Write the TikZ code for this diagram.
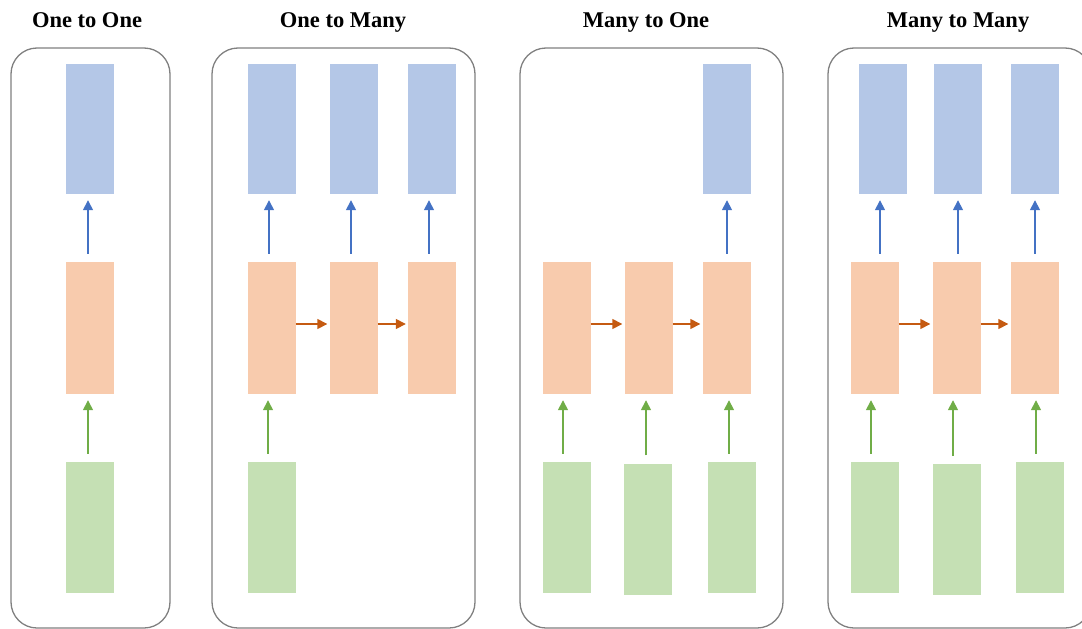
\documentclass[tikz,border=0pt]{standalone}
\usepackage{fontspec}
\setmainfont{Liberation Serif}
\usetikzlibrary{arrows.meta}
\definecolor{outblue}{HTML}{B4C7E7}
\definecolor{hidorange}{HTML}{F8CBAD}
\definecolor{ingreen}{HTML}{C5E0B4}
\definecolor{arrblue}{HTML}{4472C4}
\definecolor{arrorange}{HTML}{C55A11}
\definecolor{arrgreen}{HTML}{70AD47}
\definecolor{panelgray}{HTML}{808080}
\begin{document}
\begin{tikzpicture}[x=1pt,y=-1pt,
  cell/.style={minimum width=48pt, inner sep=0pt, draw=none},
  outcell/.style={cell, fill=outblue, minimum height=130pt},
  hidcell/.style={cell, fill=hidorange, minimum height=132pt},
  incell/.style={cell, fill=ingreen, minimum height=131pt},
  panel/.style={draw=panelgray, line width=1.3pt, rounded corners=26pt, inner sep=0pt, minimum height=580pt},
  title/.style={font=\fontsize{22.5}{26}\selectfont\bfseries, inner sep=0pt, anchor=base},
  tip/.style={-{Triangle[length=10pt,width=10pt]}, line width=1.5pt},
  uparrow/.style={tip, shorten <=8pt, shorten >=6pt},
  outarrow/.style={uparrow, draw=arrblue},
  inarrow/.style={uparrow, draw=arrgreen},
  recarrow/.style={tip, draw=arrorange, shorten >=2pt}
]
\useasboundingbox (0,0) rectangle (1082,629);
\clip (0,0) rectangle (1082,629);

% panels
\node[panel, minimum width=159pt] (p1) at (90.5,338) {};
\node[panel, minimum width=263pt] (p2) at (343.5,338) {};
\node[panel, minimum width=263pt] (p3) at (651.5,338) {};
\node[panel, minimum width=263pt] (p4) at (959.5,338) {};

% titles
\node[title] (t1) at (87,27.5) {One to One};
\node[title] (t2) at (343,27.5) {One to Many};
\node[title] (t3) at (646,27.5) {Many to One};
\node[title] (t4) at (958,27.5) {Many to Many};

% one to one
\node[outcell] (ab1) at (90,129) {};
\node[hidcell] (ah1) at (90,328) {};
\node[incell]  (ai1) at (90,527.5) {};
\draw[outarrow] ([xshift=-2pt]ab1.south |- ah1.north) -- ([xshift=-2pt]ab1.south);
\draw[inarrow]  ([xshift=-2pt]ah1.south |- ai1.north) -- ([xshift=-2pt]ah1.south);

% one to many
\node[outcell] (bb1) at (272,129) {};
\node[outcell] (bb2) at (354,129) {};
\node[outcell] (bb3) at (432,129) {};
\node[hidcell] (bh1) at (271.5,328) {};
\node[hidcell] (bh2) at (353.5,328) {};
\node[hidcell] (bh3) at (432,328) {};
\node[incell]  (bi1) at (272,527.5) {};
\draw[outarrow] ([xshift=-3pt]bb1.south |- bh1.north) -- ([xshift=-3pt]bb1.south);
\draw[outarrow] ([xshift=-3pt]bb2.south |- bh2.north) -- ([xshift=-3pt]bb2.south);
\draw[outarrow] ([xshift=-3pt]bb3.south |- bh3.north) -- ([xshift=-3pt]bb3.south);
\draw[inarrow] ([xshift=-3.5pt]bh1.south |- bi1.north) -- ([xshift=-3.5pt]bh1.south);
\draw[recarrow] ([yshift=4pt]bh1.east) -- ([yshift=4pt]bh2.west);
\draw[recarrow] ([yshift=4pt]bh2.east) -- ([yshift=4pt]bh3.west);

% many to one
\node[outcell] (cb3) at (727,129) {};
\node[hidcell] (ch1) at (566.5,328) {};
\node[hidcell] (ch2) at (648.5,328) {};
\node[hidcell] (ch3) at (726.5,328) {};
\node[incell]  (ci1) at (566.5,527.5) {};
\node[incell]  (ci2) at (648,529) {};
\node[incell]  (ci3) at (731.5,527.5) {};
\draw[outarrow] (cb3.south |- ch3.north) -- (cb3.south);
\draw[inarrow] ([xshift=-3.5pt]ch1.south |- ci1.north) -- ([xshift=-3.5pt]ch1.south);
\draw[inarrow] ([xshift=-2.5pt]ch2.south |- ci2.north) -- ([xshift=-2.5pt]ch2.south);
\draw[inarrow] ([xshift=2.5pt]ch3.south |- ci3.north) -- ([xshift=2.5pt]ch3.south);
\draw[recarrow] ([yshift=4pt]ch1.east) -- ([yshift=4pt]ch2.west);
\draw[recarrow] ([yshift=4pt]ch2.east) -- ([yshift=4pt]ch3.west);

% many to many
\node[outcell] (db1) at (883,129) {};
\node[outcell] (db2) at (958,129) {};
\node[outcell] (db3) at (1035,129) {};
\node[hidcell] (dh1) at (874.5,328) {};
\node[hidcell] (dh2) at (956.5,328) {};
\node[hidcell] (dh3) at (1034.5,328) {};
\node[incell]  (di1) at (874.5,527.5) {};
\node[incell]  (di2) at (956.5,529.5) {};
\node[incell]  (di3) at (1039.5,527.5) {};
\draw[outarrow] ([xshift=-3pt]db1.south |- dh1.north) -- ([xshift=-3pt]db1.south);
\draw[outarrow] (db2.south |- dh2.north) -- (db2.south);
\draw[outarrow] (db3.south |- dh3.north) -- (db3.south);
\draw[inarrow] ([xshift=-3.5pt]dh1.south |- di1.north) -- ([xshift=-3.5pt]dh1.south);
\draw[inarrow] ([xshift=-3.5pt]dh2.south |- di2.north) -- ([xshift=-3.5pt]dh2.south);
\draw[inarrow] ([xshift=1.5pt]dh3.south |- di3.north) -- ([xshift=1.5pt]dh3.south);
\draw[recarrow] ([yshift=4pt]dh1.east) -- ([yshift=4pt]dh2.west);
\draw[recarrow] ([yshift=4pt]dh2.east) -- ([yshift=4pt]dh3.west);
\end{tikzpicture}
\end{document}
